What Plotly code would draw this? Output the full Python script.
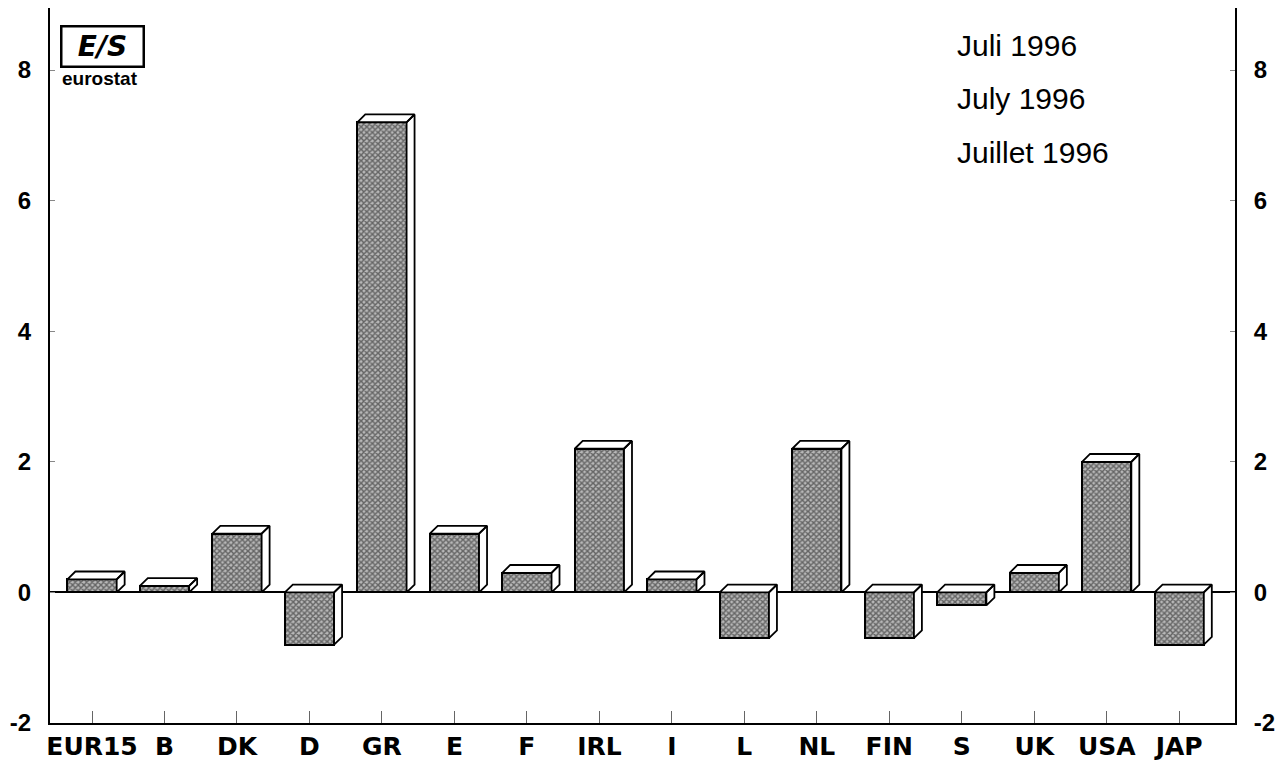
import plotly.graph_objects as go

countries = ["EUR15", "B", "DK", "D", "GR", "E", "F", "IRL", "I", "L", "NL", "FIN", "S", "UK", "USA", "JAP"]
values = [0.2, 0.1, 0.9, -0.8, 7.2, 0.9, 0.3, 2.2, 0.2, -0.7, 2.2, -0.7, -0.2, 0.3, 2.0, -0.8]
y_ticks = [-2, 0, 2, 4, 6, 8]
period_lines = ["Juli 1996", "July 1996", "Juillet 1996"]

xs = list(range(len(countries)))
half_w = 0.34
dx, dy = 0.11, 0.12  # fake 3D depth in data units

# top and side faces of each bar, as filled polygons
px, py = [], []
for x, v in zip(xs, values):
    top, bot = max(v, 0), min(v, 0)
    px += [x - half_w, x - half_w + dx, x + half_w + dx, x + half_w, x - half_w, None]
    py += [top, top + dy, top + dy, top, top, None]
    px += [x + half_w, x + half_w + dx, x + half_w + dx, x + half_w, x + half_w, None]
    py += [bot, bot + dy, top + dy, top, bot, None]

fig = go.Figure()

fig.add_trace(go.Bar(
    x=xs, y=values, width=2 * half_w,
    marker=dict(
        color="#777777",
        line=dict(color="black", width=2),
        pattern=dict(shape="x", size=4, solidity=0.6, fgcolor="#111111", bgcolor="#b8b8b8"),
    ),
    showlegend=False, hoverinfo="skip",
))

fig.add_trace(go.Scatter(
    x=px, y=py, mode="lines", fill="toself", fillcolor="white",
    line=dict(color="black", width=1.8), showlegend=False, hoverinfo="skip",
))

# invisible trace so the right-hand axis is drawn
fig.add_trace(go.Scatter(x=[xs[0]], y=[0], yaxis="y2", mode="markers",
                         marker=dict(opacity=0), showlegend=False, hoverinfo="skip"))

x_font = dict(family="DejaVu Sans, sans-serif", size=25, color="black")
y_font = dict(family="Liberation Sans, Arial, sans-serif", size=24, color="black")

fig.update_layout(
    width=1276, height=759,
    margin=dict(l=42, r=49, t=0, b=44, autoexpand=False),
    plot_bgcolor="white", paper_bgcolor="white",
    bargap=0,
    xaxis=dict(
        range=[-0.58, 15.77], tickvals=xs, ticktext=[f"<b>{c}</b>" for c in countries],
        ticks="inside", ticklen=12, tickcolor="#666", tickwidth=1, automargin=False,
        showline=True, linecolor="black", linewidth=2, showgrid=False, zeroline=False,
        tickfont=x_font,
    ),
    yaxis=dict(
        range=[-2, 8.95], tickvals=y_ticks, ticktext=[f"<b>{t}</b>" for t in y_ticks],
        ticks="inside", ticklen=5, tickcolor="#888", tickwidth=1, ticklabelstandoff=12,
        showline=True, linecolor="black", linewidth=2, showgrid=False, automargin=False,
        zeroline=True, zerolinecolor="black", zerolinewidth=1.5,
        tickfont=y_font,
    ),
    yaxis2=dict(
        range=[-2, 8.95], tickvals=y_ticks, ticktext=[f"<b>{t}</b>" for t in y_ticks],
        overlaying="y", side="right", automargin=False,
        ticks="inside", ticklen=5, tickcolor="#888", tickwidth=1, ticklabelstandoff=12,
        showline=True, linecolor="black", linewidth=2, showgrid=False, zeroline=False,
        tickfont=y_font,
    ),
)

# dates in the upper right
for i, t in enumerate(period_lines):
    fig.add_annotation(
        text=t, xref="paper", yref="paper", x=0.764, y=0.948 - i * 0.0748,
        xanchor="left", yanchor="middle", showarrow=False,
        font=dict(family="Liberation Sans, Arial, sans-serif", size=30, color="black"),
    )

# eurostat logo
fig.add_annotation(
    text="<b><i>E/S</i></b>", xref="paper", yref="paper", x=0.0084, y=0.976,
    xanchor="left", yanchor="top", showarrow=False,
    font=dict(family="DejaVu Sans, sans-serif", size=28, color="black"),
    bordercolor="black", borderwidth=2.5, borderpad=1, width=78, height=36,
)
fig.add_annotation(
    text="<b>eurostat</b>", xref="paper", yref="paper", x=0.0084, y=0.919,
    xanchor="left", yanchor="top", showarrow=False,
    font=dict(family="Liberation Sans, Arial, sans-serif", size=19, color="black"),
)

fig.write_html("out.html")
